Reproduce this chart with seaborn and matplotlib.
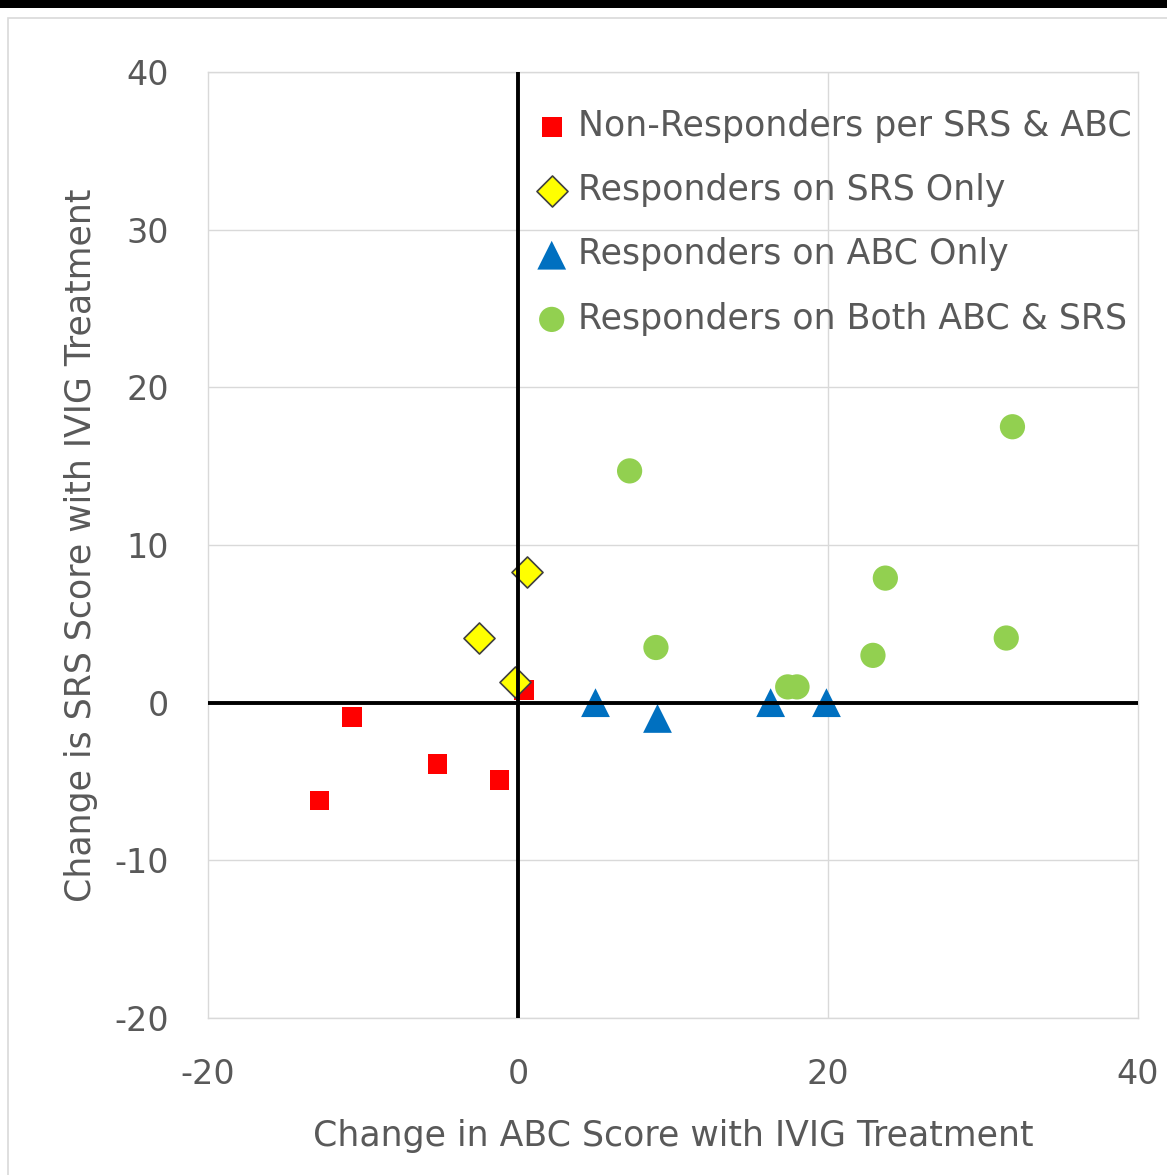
import matplotlib
matplotlib.use("Agg")
import matplotlib.pyplot as plt
import seaborn as sns
import pandas as pd
from matplotlib.patches import Rectangle

# ---- data ----
non_x = [-12.8, -10.7, -5.2, -1.2, 0.4]
non_y = [-6.2, -0.9, -3.9, -4.9, 0.8]
srs_x = [0.6, -2.5, -0.2]
srs_y = [8.3, 4.1, 1.3]
abc_x = [5.0, 9.0, 16.3, 19.9]
abc_y = [0.0, -1.0, 0.0, 0.0]
both_x = [7.2, 8.9, 17.4, 18.0, 22.9, 23.7, 31.5, 31.9]
both_y = [14.7, 3.5, 1.0, 1.0, 3.0, 7.9, 4.1, 17.5]
groups = ["Non-Responders per SRS & ABC", "Responders on SRS Only",
          "Responders on ABC Only", "Responders on Both ABC & SRS"]
x_ticks = [-20, 0, 20, 40]
y_ticks = [-20, -10, 0, 10, 20, 30, 40]

df = pd.DataFrame({
    "x": non_x + srs_x + abc_x + both_x,
    "y": non_y + srs_y + abc_y + both_y,
    "group": [groups[0]] * len(non_x) + [groups[1]] * len(srs_x)
             + [groups[2]] * len(abc_x) + [groups[3]] * len(both_x),
})

sns.set_theme(style="white")
plt.rcParams["font.family"] = ["DejaVu Sans"]
plt.rcParams["axes.unicode_minus"] = False
txt = "#595959"

fig = plt.figure(figsize=(11.67, 11.75), dpi=100)
fig.patch.set_facecolor("white")
# dark top band and light chart border as in the screenshot
fig.patches.append(Rectangle((0, 1 - 8 / 1175), 1, 8 / 1175, transform=fig.transFigure,
                             facecolor="black", edgecolor="none", zorder=0))
fig.patches.append(Rectangle((8 / 1167, -0.01), 1.0, 1 - 18 / 1175 + 0.01, transform=fig.transFigure,
                             facecolor="none", edgecolor="#d9d9d9", lw=1.2, zorder=0))

ax = fig.add_axes([208 / 1167, 1 - 1018 / 1175, (1138 - 208) / 1167, (1018 - 72) / 1175])

colors = {groups[0]: "#FF0000", groups[1]: "#FFFF00", groups[2]: "#0070C0", groups[3]: "#92D050"}
markers = {groups[0]: "s", groups[1]: "D", groups[2]: "^", groups[3]: "o"}
sizes = {groups[0]: 200, groups[1]: 250, groups[2]: 430, groups[3]: 330}
edges = {groups[0]: "none", groups[1]: "#404040", groups[2]: "none", groups[3]: "none"}

for g in groups:
    sub = df[df.group == g]
    sns.scatterplot(data=sub, x="x", y="y", ax=ax, color=colors[g], marker=markers[g],
                    s=sizes[g], edgecolor=edges[g], linewidth=1.2, label=g, zorder=3)

ax.set_xlim(-20, 40)
ax.set_ylim(-20, 40)
ax.set_xticks(x_ticks)
ax.set_yticks(y_ticks)
ax.grid(True, color="#d9d9d9", lw=1.0)
ax.xaxis.grid(False)
ax.axvline(20, color="#d9d9d9", lw=1.0, zorder=0)
for s in ax.spines.values():
    s.set_color("#d9d9d9")
    s.set_linewidth(1.0)
ax.axhline(0, color="black", lw=2.8, zorder=4)
ax.axvline(0, color="black", lw=2.8, zorder=4)

ax.tick_params(axis="both", length=0, labelsize=24, colors=txt)
ax.tick_params(axis="y", pad=28)
ax.tick_params(axis="x", pad=29)
ax.set_xlabel("Change in ABC Score with IVIG Treatment", fontsize=25, color=txt, labelpad=20)
ax.set_ylabel("Change is SRS Score with IVIG Treatment", fontsize=25, color=txt, labelpad=12)

leg = ax.legend(loc="upper right", bbox_to_anchor=(0.993, 0.961), frameon=False, fontsize=25,
                labelcolor=txt, handlelength=0.9, handletextpad=0.3, labelspacing=0.87,
                borderpad=0, borderaxespad=0, markerscale=1.0)
for t in leg.get_texts():
    t.set_color(txt)

fig.savefig("out.png", dpi=100, facecolor="white")
